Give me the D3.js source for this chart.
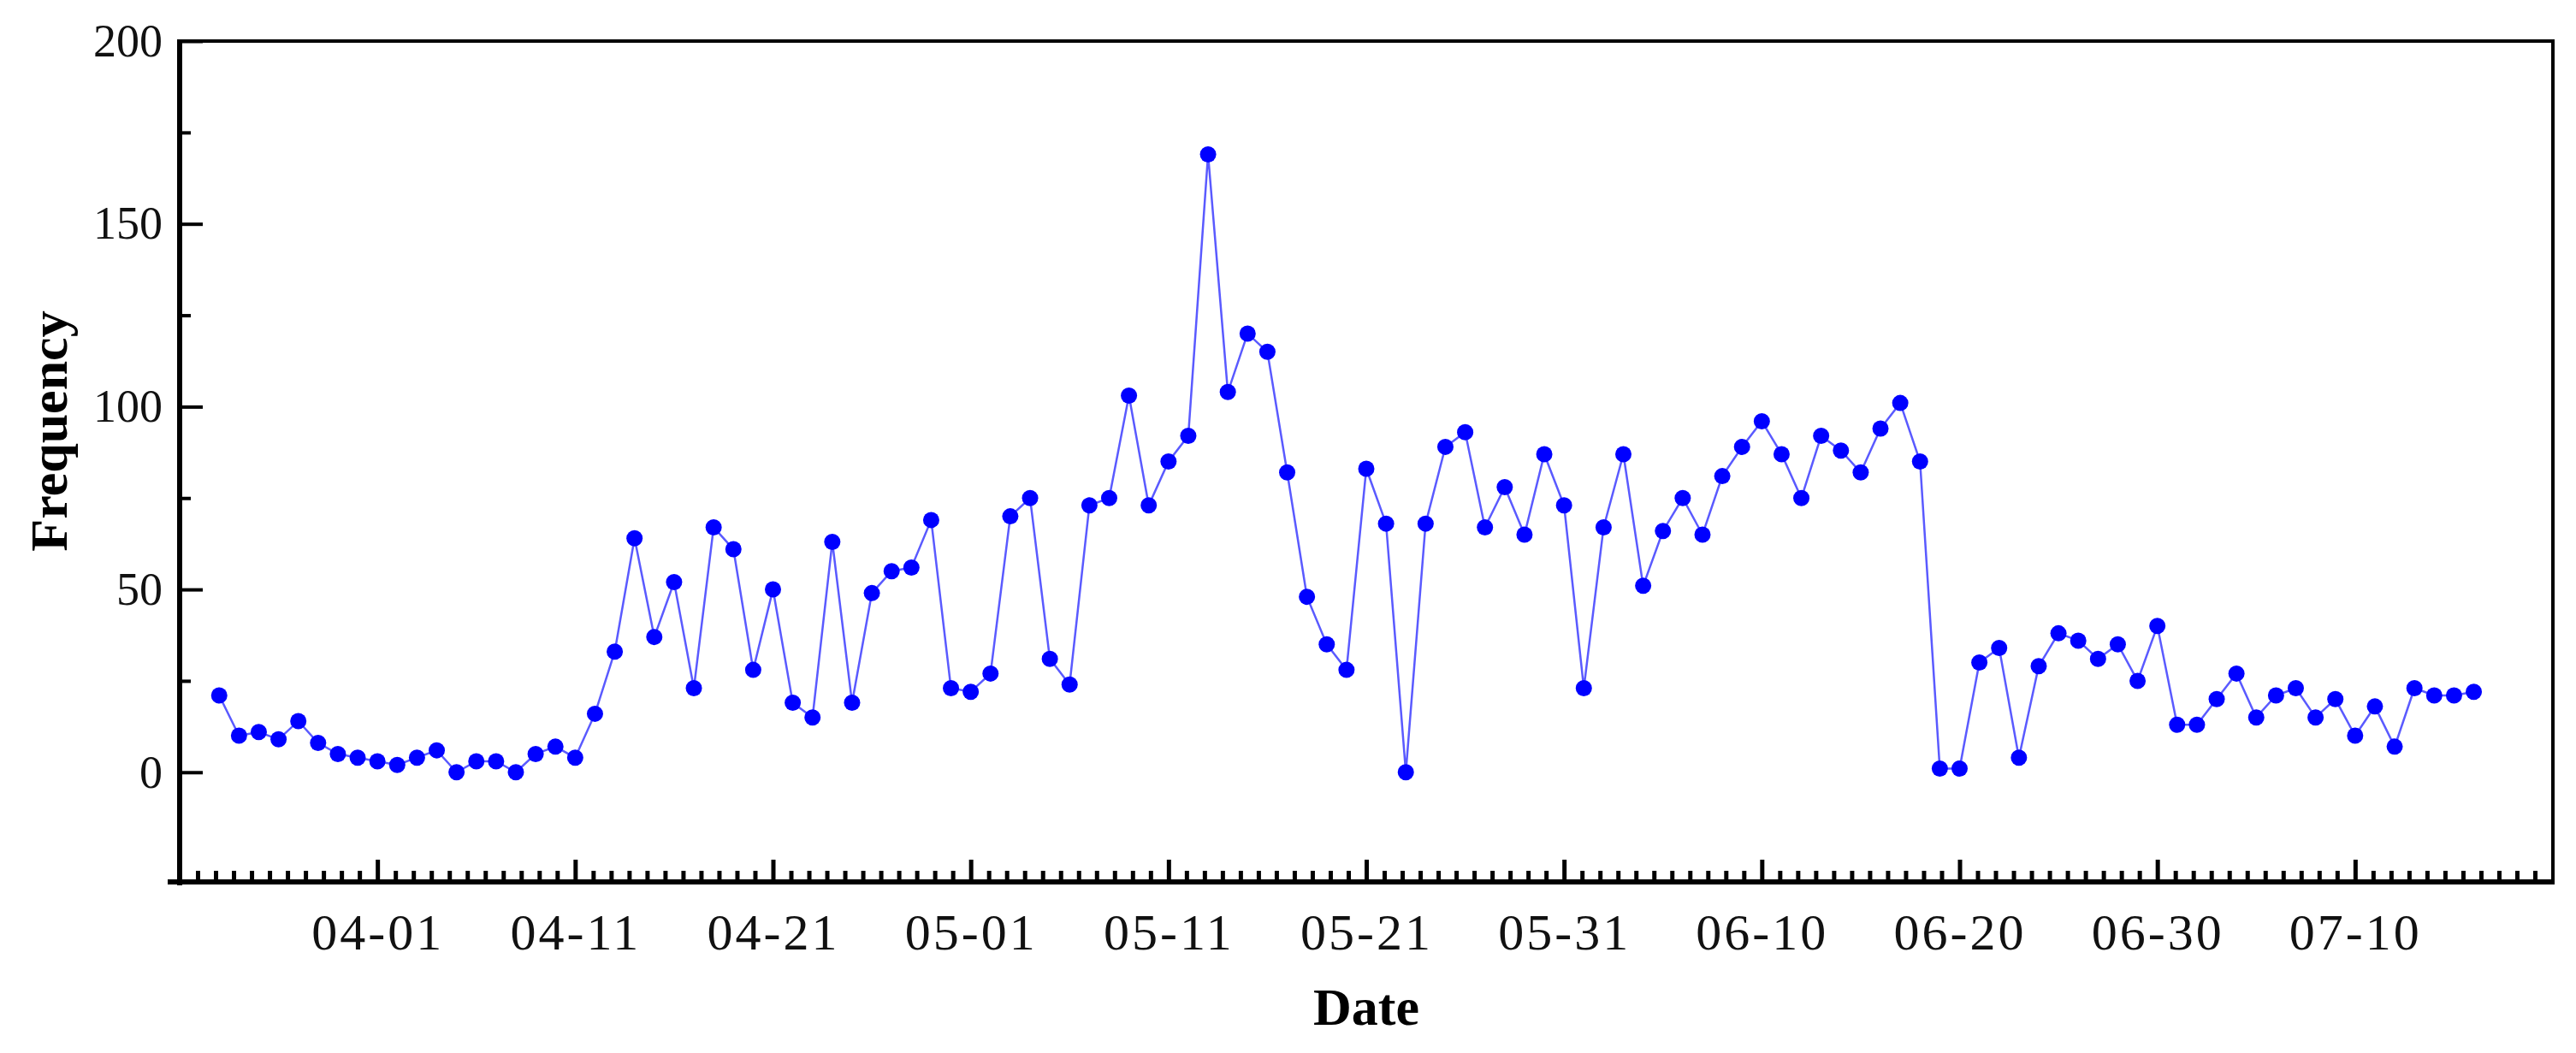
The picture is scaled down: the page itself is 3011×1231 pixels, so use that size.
<!DOCTYPE html>
<html>
<head>
<meta charset="utf-8">
<script src="https://cdn.jsdelivr.net/npm/d3@7"></script>
<style>
  html, body { margin: 0; padding: 0; background: #fff; }
  svg { display: block; }
</style>
</head>
<body>
<svg id="chart" width="3011" height="1231"></svg>
<script>
// ---- data ----
const firstDay = "2020-03-24";
const lastDay = "2020-07-16";
const frequency = [
  21, 10, 11, 9, 14, 8, 5, 4, 3, 2, 4, 6, 0, 3, 3, 0, 5, 7, 4, 16,
  33, 64, 37, 52, 23, 67, 61, 28, 50, 19, 15, 63, 19, 49, 55, 56, 69, 23, 22, 27,
  70, 75, 31, 24, 73, 75, 103, 73, 85, 92, 169, 104, 120, 115, 82, 48, 35, 28, 83, 68,
  0, 68, 89, 93, 67, 78, 65, 87, 73, 23, 67, 87, 51, 66, 75, 65, 81, 89, 96, 87,
  75, 92, 88, 82, 94, 101, 85, 1, 1, 30, 34, 4, 29, 38, 36, 31, 35, 25, 40, 13,
  13, 20, 27, 15, 21, 23, 15, 20, 10, 18, 7, 23, 21, 21, 22
];
const xTickLabels = ["04-01","04-11","04-21","05-01","05-11","05-21","05-31","06-10","06-20","06-30","07-10"];
const yTickValues = [0, 50, 100, 150, 200];
const yMinorValues = [25, 75, 125, 175];
const xTitle = "Date";
const yTitle = "Frequency";
const xDomainLabels = ["03-22", "07-20"];
const yDomain = [-30, 200];

// ---- build ----
const parse = d3.utcParse("%Y-%m-%d");
const parseMD = s => parse("2020-" + s);
const days = d3.utcDay.range(parse(firstDay), d3.utcDay.offset(parse(lastDay), 1));
const data = days.map((d, i) => ({ date: d, value: frequency[i] }));

const pLeft = 210, pRight = 2984, pTop = 48, pBottom = 1031;
const svg = d3.select("#chart");

const x = d3.scaleUtc().domain(xDomainLabels.map(parseMD)).range([pLeft, pRight]);
const y = d3.scaleLinear().domain(yDomain).range([pBottom, pTop]);

const serif = "'Liberation Serif', 'Times New Roman', serif";

// minor x ticks: 10 minor ticks between consecutive majors
const majors = d3.utcDay.range(x.domain()[0], d3.utcDay.offset(x.domain()[1], 1), 1)
  .filter((d, i) => i % 10 === 0);
const minorX = [];
for (let j = 0; j < majors.length - 1; j++) {
  const a = majors[j].getTime(), b = majors[j + 1].getTime();
  for (let k = 1; k <= 10; k++) minorX.push(new Date(a + (b - a) * k / 11));
}

// x minor axis
svg.append("g")
  .attr("transform", `translate(0,${pBottom})`)
  .call(d3.axisBottom(x).tickValues(minorX).tickSizeInner(-13).tickSizeOuter(0).tickFormat(""))
  .call(g => g.select(".domain").remove())
  .call(g => g.selectAll("line").attr("stroke", "#000").attr("stroke-width", 5));

// x major axis
svg.append("g")
  .attr("transform", `translate(0,${pBottom})`)
  .call(d3.axisBottom(x).tickValues(xTickLabels.map(parseMD)).tickSizeInner(-26).tickSizeOuter(0)
    .tickPadding(36).tickFormat(d3.utcFormat("%m-%d")))
  .call(g => g.select(".domain").remove())
  .call(g => g.selectAll("line").attr("stroke", "#000").attr("stroke-width", 5))
  .call(g => g.selectAll("text").attr("font-family", serif).attr("font-size", 60)
    .attr("letter-spacing", 3).attr("fill", "#111"));

// y minor axis
svg.append("g")
  .attr("transform", `translate(${pLeft},0)`)
  .call(d3.axisLeft(y).tickValues(yMinorValues).tickSizeInner(-13).tickSizeOuter(0).tickFormat(""))
  .call(g => g.select(".domain").remove())
  .call(g => g.selectAll("line").attr("stroke", "#000").attr("stroke-width", 4));

// y major axis
svg.append("g")
  .attr("transform", `translate(${pLeft},0)`)
  .call(d3.axisLeft(y).tickValues(yTickValues).tickSizeInner(-27).tickSizeOuter(0).tickPadding(20))
  .call(g => g.select(".domain").remove())
  .call(g => g.selectAll("line").attr("stroke", "#000").attr("stroke-width", 4))
  .call(g => g.selectAll("text").attr("font-family", serif).attr("font-size", 54).attr("fill", "#111"));

// frame
svg.append("line").attr("x1", pLeft).attr("x2", pRight).attr("y1", pTop).attr("y2", pTop)
  .attr("stroke", "#000").attr("stroke-width", 4);
svg.append("line").attr("x1", pRight).attr("x2", pRight).attr("y1", pTop - 2).attr("y2", pBottom + 2)
  .attr("stroke", "#000").attr("stroke-width", 4);
svg.append("line").attr("x1", pLeft).attr("x2", pLeft).attr("y1", pTop - 2).attr("y2", pBottom + 4)
  .attr("stroke", "#000").attr("stroke-width", 6);
svg.append("line").attr("x1", pLeft - 14).attr("x2", pRight + 2).attr("y1", pBottom).attr("y2", pBottom)
  .attr("stroke", "#000").attr("stroke-width", 6);

// line + markers
const line = d3.line().x(d => x(d.date)).y(d => y(d.value));
svg.append("path").datum(data)
  .attr("d", line).attr("fill", "none")
  .attr("stroke", "#5a5aff").attr("stroke-width", 2.5);
svg.append("g").selectAll("circle").data(data).join("circle")
  .attr("cx", d => x(d.date)).attr("cy", d => y(d.value)).attr("r", 9.5)
  .attr("fill", "#0000ff");

// titles
svg.append("text").text(xTitle)
  .attr("x", (pLeft + pRight) / 2).attr("y", 1198)
  .attr("text-anchor", "middle").attr("font-family", serif)
  .attr("font-weight", "bold").attr("font-size", 62).attr("fill", "#000");
svg.append("text").text(yTitle)
  .attr("transform", `translate(78,504) rotate(-90)`)
  .attr("text-anchor", "middle").attr("font-family", serif)
  .attr("font-weight", "bold").attr("font-size", 62).attr("fill", "#000");
</script>
</body>
</html>
